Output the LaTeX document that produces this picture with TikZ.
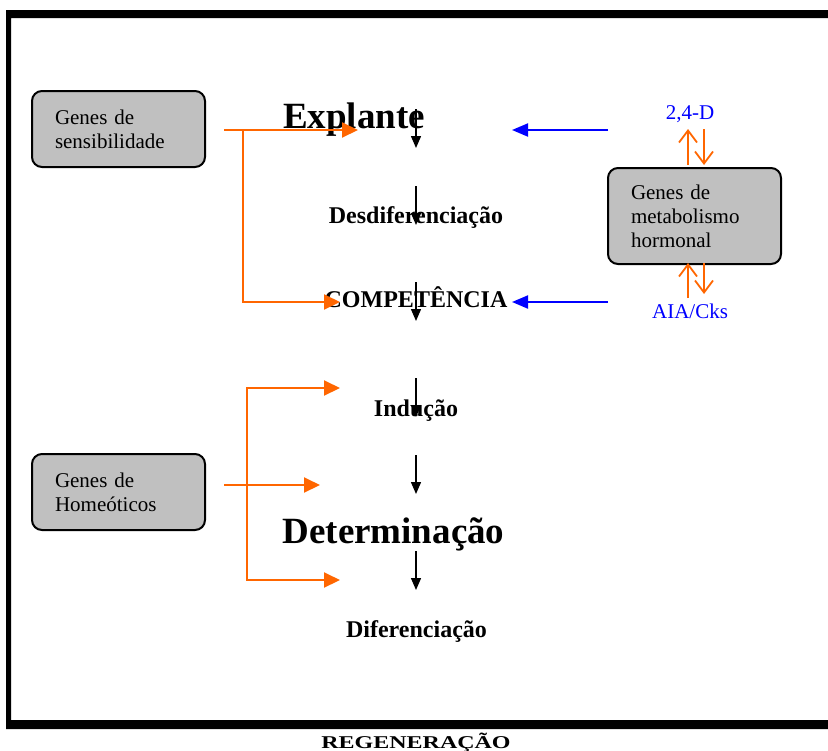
\documentclass[tikz,border=0pt]{standalone}
\usepackage{fontspec}
\setmainfont{Liberation Serif}
\usetikzlibrary{arrows.meta}

\definecolor{orng}{RGB}{255,102,0}
\definecolor{boxgray}{RGB}{192,192,192}
\tikzset{
  genebox/.style={draw, line width=1pt, rounded corners=5pt, fill=boxgray,
    text width=63.5pt, inner xsep=11.5pt, inner ysep=0pt, minimum height=38pt,
    align=left, font=\fontsize{10.5}{12}\selectfont},
  stage/.style={anchor=base, inner sep=0pt, font=\bfseries\fontsize{12}{14}\selectfont},
  bigstage/.style={stage, font=\bfseries\fontsize{18.5}{22}\selectfont},
  hormlabel/.style={anchor=base, inner sep=0pt, text=blue, font=\fontsize{10.5}{12}\selectfont},
  orangearrow/.style={draw=orng, line width=1pt, -{Triangle[length=8pt,width=7.5pt]}},
  bluearrow/.style={draw=blue, line width=1pt, -{Triangle[length=8pt,width=6.5pt]}},
  hormarrow/.style={draw=orng, line width=0.9pt, -{Straight Barb[length=6pt,width=9pt]}},
  stagearrow/.style={line width=0.7pt, -{Triangle[length=6pt,width=5pt]}}
}

\begin{document}
\begin{tikzpicture}[x=0.5pt,y=-0.5pt]
	\useasboundingbox (0,0) rectangle (828,750);
	\clip (0,0) rectangle (828,750);
	\fill[even odd rule] (6,10) rectangle (850,729) (11,18) rectangle (840,720);

	\node[genebox] (sens) at (118.5,129) {Genes de\\sensibilidade};
	\node[genebox] (home) at (118.5,492) {Genes de\\Homeóticos};
	\node[genebox, minimum height=48pt] (horm) at (694.5,216) {Genes de\\metabolismo\\hormonal};

	\node[bigstage] (expl) at (354,128) {Explante};
	\node[stage] (desd) at (416,223) {Desdiferenciação};
	\node[stage] (comp) at (416,307) {COMPETÊNCIA};
	\node[stage] (indu) at (416,416) {Indução};
	\node[bigstage] (dete) at (393.5,543) {Determinação};
	\node[stage] (dife) at (416.5,637) {Diferenciação};
	\node[stage] (rege) at (416,748) {\scalebox{1}[0.75]{REGENERAÇÃO}};

	\node[hormlabel] (d24) at (690,119) {2,4-D};
	\node[hormlabel] (aia) at (690,318) {AIA/Cks};

	\foreach \y in {109,186,282,378,455,551}
		\draw[stagearrow] (416,\y) -- ++(0,39);

	\coordinate (sensout) at (224,130);
	\coordinate (sensfork) at (243,130);
	\coordinate (explin) at (358,130);
	\coordinate (compin) at (340,302);
	\draw[orangearrow] (sensout) -- (explin);
	\draw[orangearrow] (sensfork) |- (compin);

	\coordinate (homeout) at (224,485);
	\coordinate (homefork) at (247,485);
	\coordinate (induin) at (340,388);
	\coordinate (detein) at (320,485);
	\coordinate (difein) at (340,580);
	\draw[orangearrow] (homeout) -- (detein);
	\draw[orangearrow] (homefork) |- (induin);
	\draw[orangearrow] (homefork) |- (difein);

	\coordinate (hormtop) at (608,130);
	\coordinate (hormbot) at (608,302);
	\coordinate (explout) at (512,130);
	\coordinate (compout) at (512,302);
	\draw[bluearrow] (hormtop) -- (explout);
	\draw[bluearrow] (hormbot) -- (compout);

	\draw[hormarrow] (688,165) -- (688,129);
	\draw[hormarrow] (704,129) -- (704,165);
	\draw[hormarrow] (688,298) -- (688,263);
	\draw[hormarrow] (704,263) -- (704,294);
\end{tikzpicture}
\end{document}
